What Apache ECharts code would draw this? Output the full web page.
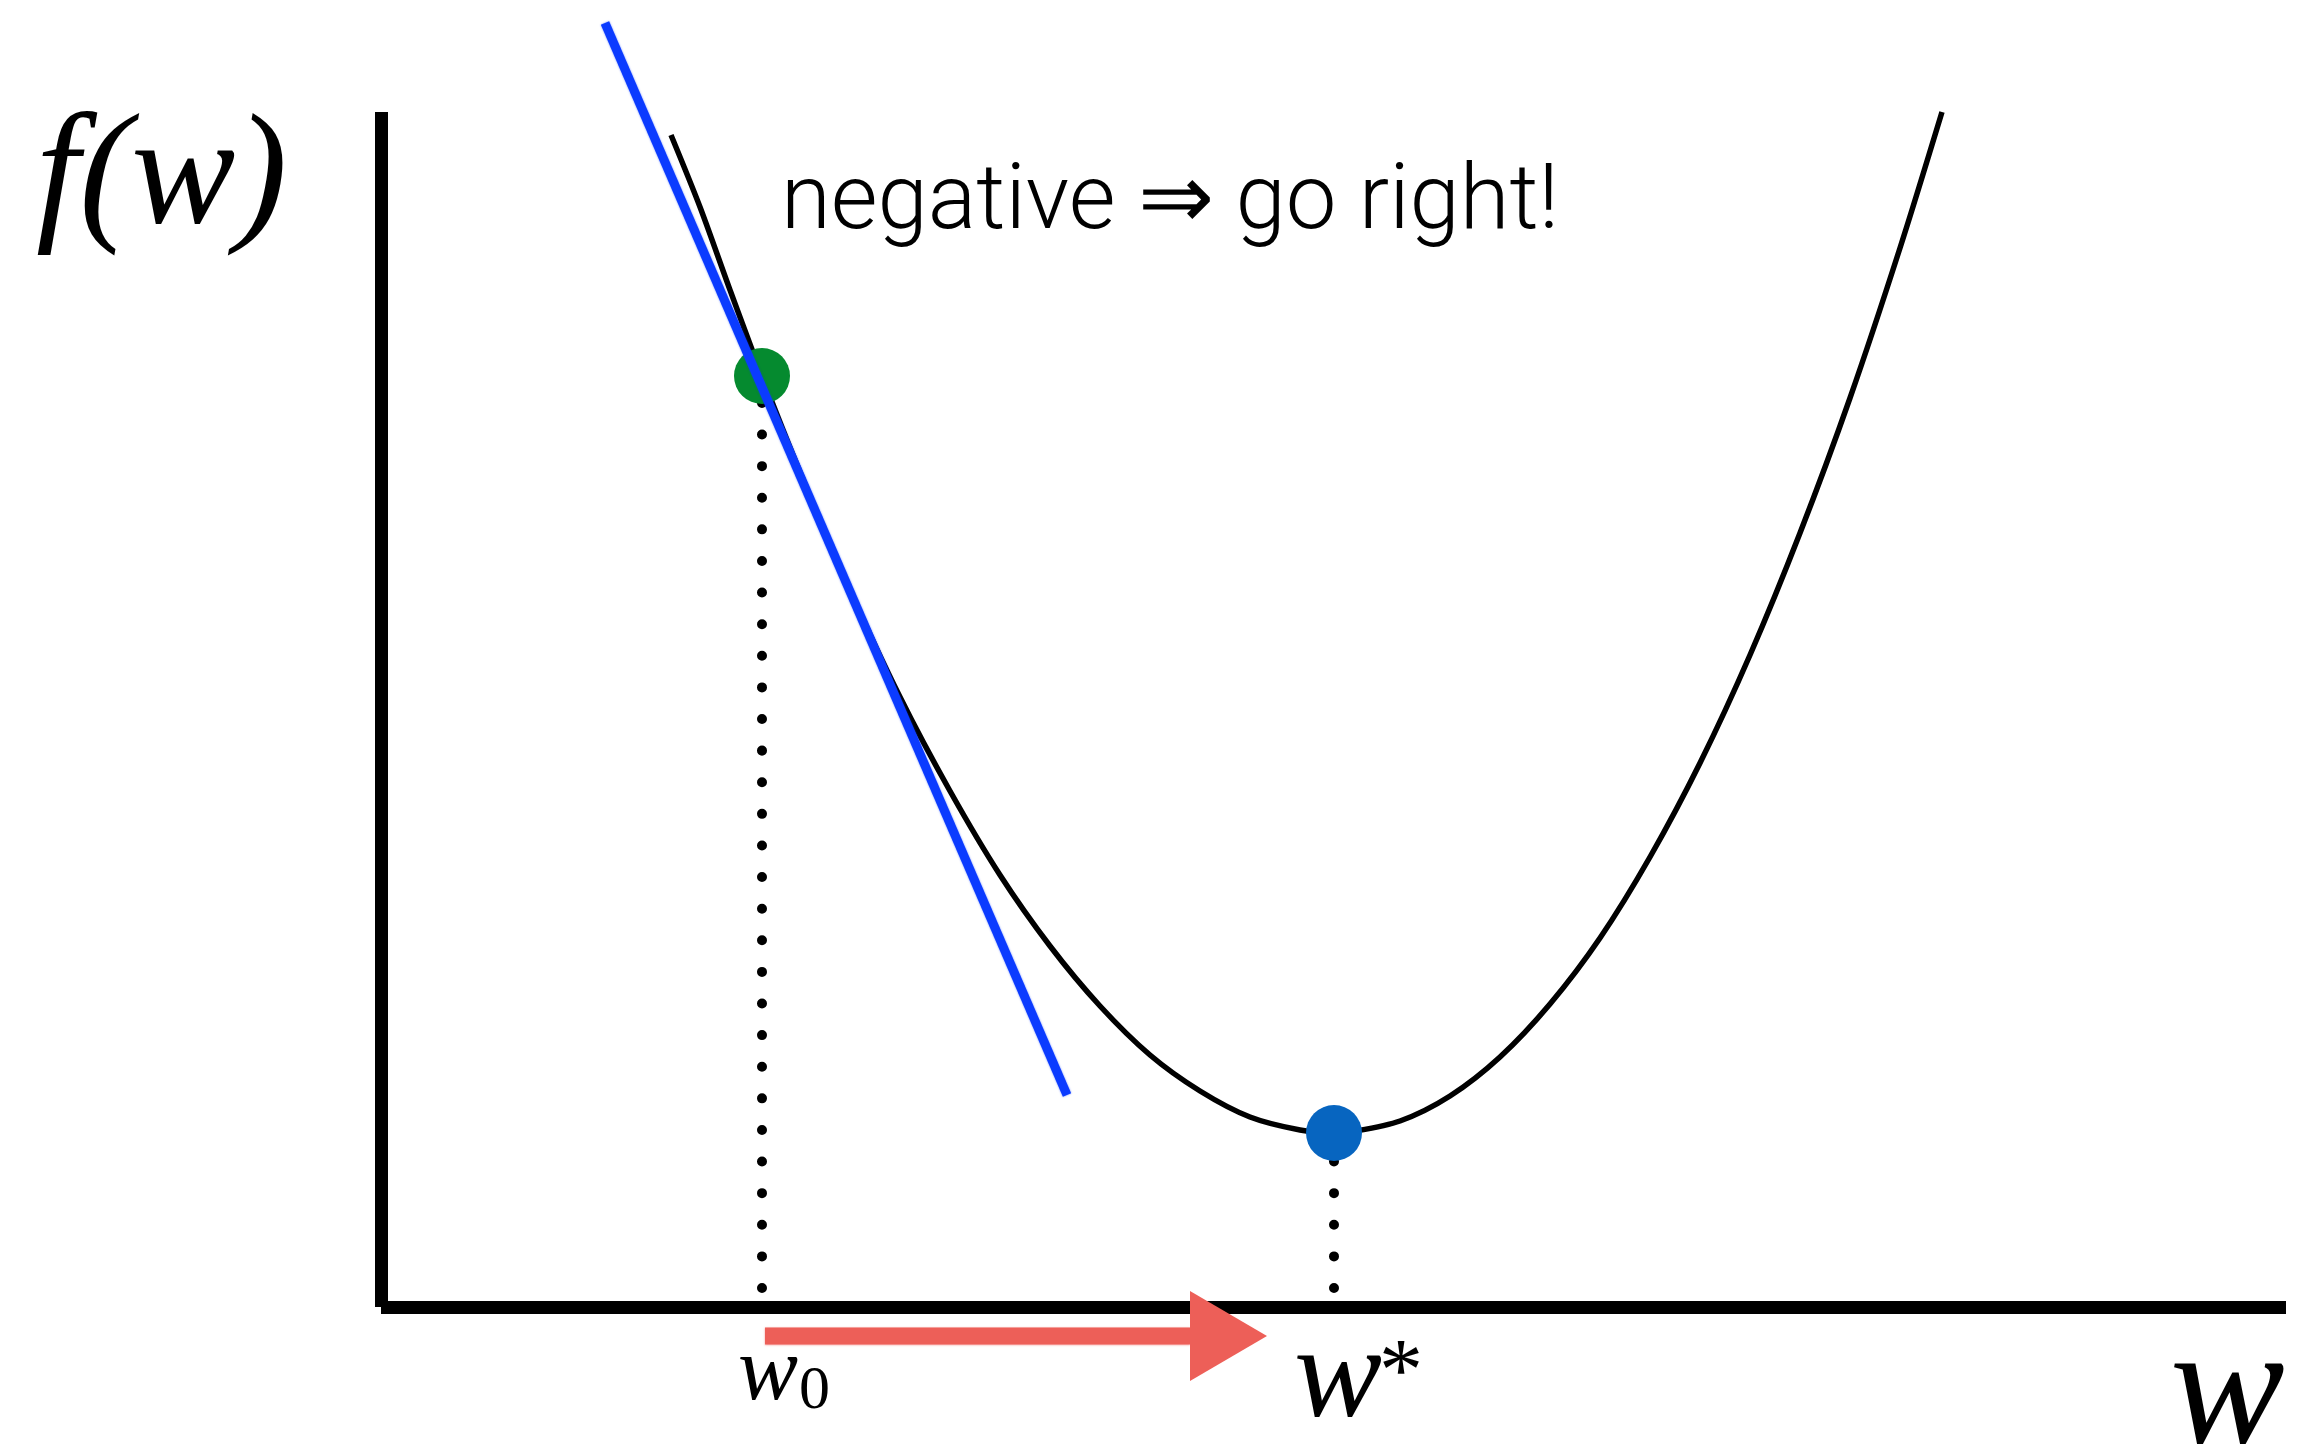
<!DOCTYPE html>
<html>
<head>
<meta charset="utf-8">
<title>Gradient descent: negative slope</title>
<script src="https://cdn.jsdelivr.net/npm/echarts@6/dist/echarts.min.js"></script>
<style>
  html, body { margin: 0; padding: 0; background: #fff; }
  #chart { width: 2310px; height: 1447px; }
</style>
</head>
<body>
<div id="chart"></div>
<script>
// Loss curve f(w), sampled along w
const curveW = [2.90, 3.19, 3.49, 3.81, 4.19, 4.69, 5.19, 5.69, 6.19, 6.69, 7.19, 7.69, 8.19, 8.69, 9.19, 9.53,
                9.69, 10.19, 10.69, 11.19, 11.69, 12.19, 12.69, 13.19, 13.69, 14.19, 14.69, 15.19, 15.61];
const curveF = [11.72, 11.00, 10.17, 9.31, 8.35, 7.17, 6.10, 5.16, 4.32, 3.61, 3.01, 2.52, 2.16, 1.90, 1.77, 1.74,
                1.75, 1.86, 2.11, 2.50, 3.03, 3.69, 4.50, 5.44, 6.52, 7.74, 9.09, 10.59, 11.95];

// Tangent at the starting point
const tangentW = [2.24, 6.86];
const tangentF = [12.84, 2.12];

// Starting point w0 and minimum w*
const startW = 3.81, startF = 9.31;
const minW = 9.53, minF = 1.74;
const dropFloor = 0.19;          // lowest dot of the drop lines

// Step arrow below the axis
const arrowY = -0.29;
const arrowTailW = 3.84;
const arrowHeadBaseW = 8.09;
const arrowTipW = 8.86;

// Axis extents
const wMax = 19.05, fMax = 11.95;

const zip = (a, b) => a.map((v, i) => [v, b[i]]);

const chart = echarts.init(document.getElementById('chart'), null, { renderer: 'canvas' });

const axisCommon = {
  type: 'value',
  min: 0,
  axisLine: { show: true, lineStyle: { color: '#000', width: 13, cap: 'butt' } },
  axisTick: { show: false },
  axisLabel: { show: false },
  splitLine: { show: false }
};

const dotted = {
  color: '#000',
  width: 10,
  type: [0.01, 31.6],
  cap: 'round'
};

const serif = '"Liberation Serif", "Times New Roman", serif';

chart.setOption({
  animation: false,
  backgroundColor: '#fff',
  grid: { left: 381, top: 112, width: 1905, height: 1195 },
  xAxis: Object.assign({}, axisCommon, { max: wMax }),
  yAxis: Object.assign({}, axisCommon, { max: fMax }),
  series: [
    {
      name: 'drop w0',
      type: 'line',
      data: [[startW, dropFloor], [startW, startF]],
      symbol: 'none',
      lineStyle: dotted,
      z: 2
    },
    {
      name: 'drop w*',
      type: 'line',
      data: [[minW, dropFloor], [minW, minF]],
      symbol: 'none',
      lineStyle: dotted,
      z: 2
    },
    {
      name: 'f(w)',
      type: 'line',
      data: zip(curveW, curveF),
      smooth: 0.3,
      symbol: 'none',
      lineStyle: { color: '#000', width: 5.5 },
      z: 3
    },
    {
      name: 'start',
      type: 'scatter',
      data: [[startW, startF]],
      symbolSize: 56,
      itemStyle: { color: '#058a2f', opacity: 1 },
      z: 4
    },
    {
      name: 'tangent',
      type: 'line',
      data: zip(tangentW, tangentF),
      clip: false,
      symbol: 'none',
      lineStyle: { color: '#0b3bff', width: 9, shadowBlur: 2, shadowColor: 'rgba(11,59,255,0.6)' },
      z: 5
    },
    {
      name: 'minimum',
      type: 'scatter',
      data: [[minW, minF]],
      symbolSize: 56,
      itemStyle: { color: '#0765c0', opacity: 1 },
      z: 6
    },
    {
      name: 'step',
      type: 'line',
      data: [[arrowTailW, arrowY], [arrowHeadBaseW, arrowY]],
      clip: false,
      symbol: 'none',
      lineStyle: { color: '#ed5f58', width: 17, shadowBlur: 2, shadowColor: 'rgba(237,95,88,0.6)' },
      z: 6
    },
    {
      name: 'step head',
      type: 'scatter',
      data: [[(arrowHeadBaseW + arrowTipW) / 2, arrowY]],
      clip: false,
      symbol: 'path://M0,0L1,0.5L0,1Z',
      symbolSize: [77, 90],
      itemStyle: { color: '#ed5f58', opacity: 1 },
      z: 7
    }
  ],
  graphic: [
    { type: 'text', x: 36, y: 181, style: { text: 'f(w)', font: 'italic 156px ' + serif, fill: '#000', textAlign: 'left', textVerticalAlign: 'middle' } },
    { type: 'text', x: 781, y: 205, style: { text: 'negative \u21D2 go right!', font: '300 90.5px Roboto, Lato, "Noto Sans", sans-serif', fill: '#000', textAlign: 'left', textVerticalAlign: 'middle' } },
    { type: 'text', x: 738, y: 1375, style: { text: 'w', font: 'italic 90px ' + serif, fill: '#000', textAlign: 'left', textVerticalAlign: 'middle' } },
    { type: 'text', x: 799, y: 1392, style: { text: '0', font: '62px ' + serif, fill: '#000', textAlign: 'left', textVerticalAlign: 'middle' } },
    { type: 'text', x: 1294, y: 1381, style: { text: 'w', font: 'italic 132px ' + serif, fill: '#000', textAlign: 'left', textVerticalAlign: 'middle' } },
    { type: 'text', x: 1379, y: 1376, style: { text: '*', font: '88px ' + serif, fill: '#000', textAlign: 'left', textVerticalAlign: 'middle' } },
    { type: 'text', x: 2170, y: 1397, style: { text: 'w', font: 'italic 172px ' + serif, fill: '#000', textAlign: 'left', textVerticalAlign: 'middle' } }
  ]
});
</script>
</body>
</html>
